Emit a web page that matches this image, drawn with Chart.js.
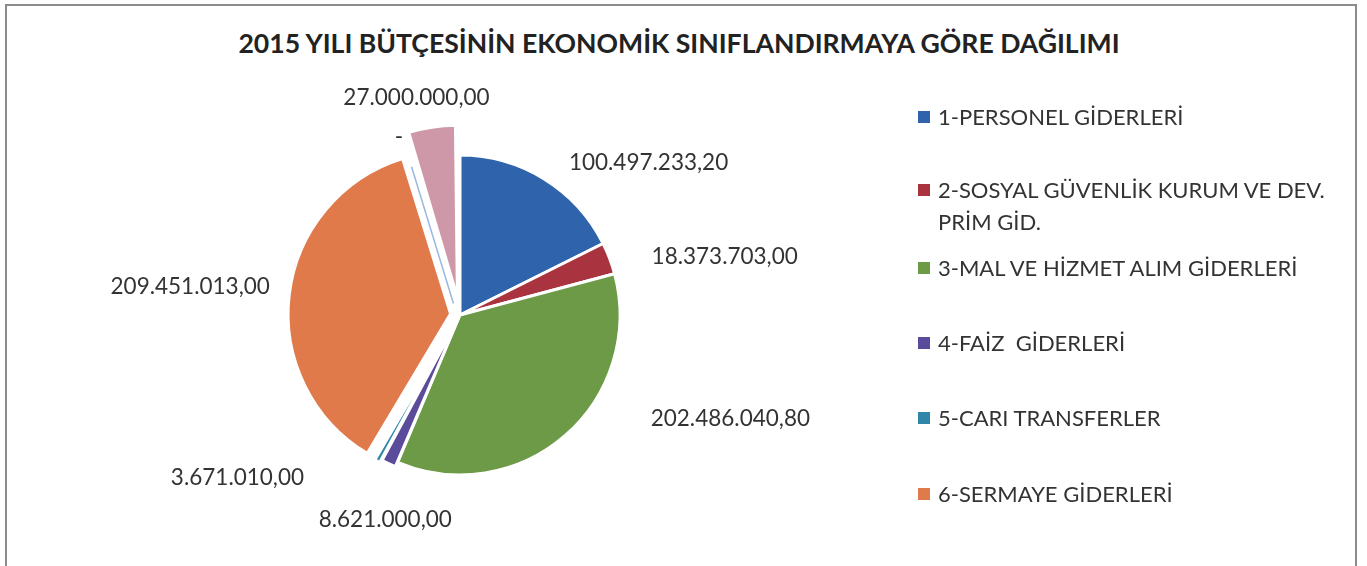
<!DOCTYPE html>
<html>
<head>
<meta charset="utf-8">
<script src="https://cdn.jsdelivr.net/npm/chart.js@4.4.0/dist/chart.umd.min.js"></script>
<style>
  html, body { margin: 0; padding: 0; background: #fff; overflow: hidden; }
  #wrap { position: relative; width: 1367px; height: 566px; font-family: Lato, sans-serif; color: #333; }
  #frame { position: absolute; left: 5px; top: 4px; width: 1348px; height: 600px; border: 2px solid #8c8c8c; }
  #title { position: absolute; left: 0; width: 1358px; top: 27px; text-align: center; font-weight: bold; font-size: 26.6px; color: #222; }
  #chart { position: absolute; left: 0; top: 0; }
  .item { position: absolute; left: 918px; display: flex; align-items: flex-start; font-size: 22px; line-height: 32px; white-space: pre; }
  .item i { display: inline-block; width: 12px; height: 12px; margin: 10px 8px 0 0; flex: none; }
</style>
</head>
<body>
<div id="wrap">
  <div id="frame"></div>
  <div id="title">2015 YILI BÜTÇESİNİN EKONOMİK SINIFLANDIRMAYA GÖRE DAĞILIMI</div>
  <canvas id="chart" width="1367" height="566"></canvas>
  <div id="legend"></div>
</div>
<script>
// slices, clockwise from 12 o'clock
const categories = [
  '1-PERSONEL GİDERLERİ',
  '2-SOSYAL GÜVENLİK KURUM VE DEV.\nPRİM GİD.',
  '3-MAL VE HİZMET ALIM GİDERLERİ',
  '4-FAİZ  GİDERLERİ',
  '5-CARI TRANSFERLER',
  '6-SERMAYE GİDERLERİ',
  '7-SERMAYE TRANSFERLERİ',
  '8-BORÇ VERME',
];
const values = [100497233.2, 18373703, 202486040.8, 8621000, 3671010, 209451013, 0, 27000000];
const colors = ['#2f63ab', '#a9343f', '#6d9a47', '#5b4b9b', '#2f86a8', '#e07a4b', '#9ab7e0', '#cf98a8'];
const explode = [0, 0, 0, 10, 16, 38, 0, 70];
// only the first six entries fit in the legend box
const legendCount = 6;

// label tweaks, Excel "best fit" moves some labels off the radial line
const labelNudge = [[52, 11], [28, 10], [100, -41], [32, 32], [-101, -4], [-12, -5], [-7, 5], [-6, -27]];
const legendTop = [101, 174, 252, 327, 402, 478];

const fmt = (v) => {
  if (!v) return '-';
  const [int, dec] = v.toFixed(2).split('.');
  return int.replace(/\B(?=(\d{3})+(?!\d))/g, '.') + ',' + dec;
};

const valueLabels = {
  id: 'valueLabels',
  afterDatasetsDraw(chart) {
    const ctx = chart.ctx;
    const meta = chart.getDatasetMeta(0);
    ctx.save();
    ctx.font = '22.5px Lato';
    ctx.fillStyle = '#333';
    ctx.textAlign = 'center';
    ctx.textBaseline = 'middle';
    meta.data.forEach((arc, i) => {
      const p = arc.getProps(['x', 'y', 'startAngle', 'endAngle', 'outerRadius']);
      const mid = (p.startAngle + p.endAngle) / 2;
      if (!values[i]) {
        // zero slice shows up as a thin edge line
        ctx.strokeStyle = colors[i];
        ctx.lineWidth = 1.5;
        ctx.beginPath();
        ctx.moveTo(p.x + Math.cos(mid) * 12 - 3, p.y + Math.sin(mid) * 12);
        ctx.lineTo(p.x + Math.cos(mid) * (p.outerRadius - 5) - 3, p.y + Math.sin(mid) * (p.outerRadius - 5));
        ctx.stroke();
      }
      const text = fmt(values[i]);
      const w = ctx.measureText(text).width;
      const r = p.outerRadius + 20;
      const cx = p.x + Math.cos(mid) * (r + w / 2) + labelNudge[i][0];
      const cy = p.y + Math.sin(mid) * (r + 12) + labelNudge[i][1];
      ctx.fillText(text, cx, cy);
    });
    ctx.restore();
  },
};

new Chart(document.getElementById('chart'), {
  type: 'pie',
  data: {
    labels: categories,
    datasets: [{
      data: values,
      backgroundColor: colors,
      borderColor: '#ffffff',
      borderWidth: 3,
      offset: explode,
      radius: 160,
    }],
  },
  options: {
    responsive: false,
    animation: false,
    events: [],
    layout: { padding: { left: 260, right: 707, top: 115, bottom: 51 } },
    plugins: {
      legend: { display: false },
      tooltip: { enabled: false },
    },
  },
  plugins: [valueLabels],
});

const legend = document.getElementById('legend');
categories.slice(0, legendCount).forEach((name, i) => {
  const el = document.createElement('div');
  el.className = 'item';
  el.style.top = legendTop[i] + 'px';
  el.innerHTML = `<i style="background:${colors[i]}"></i><span>${name}</span>`;
  legend.appendChild(el);
});
</script>
</body>
</html>
